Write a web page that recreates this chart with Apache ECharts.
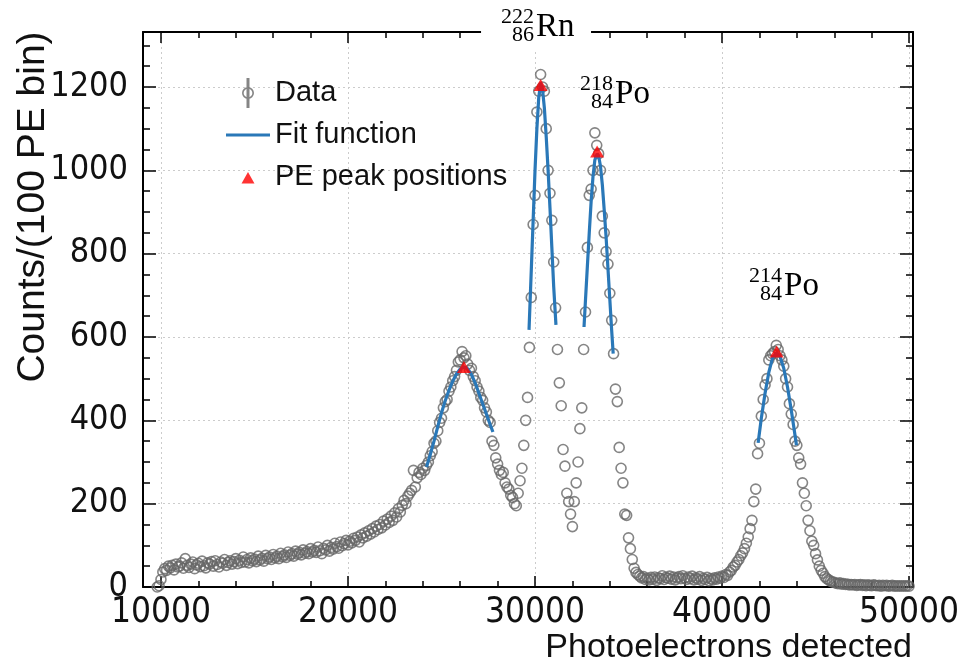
<!DOCTYPE html>
<html><head><meta charset="utf-8">
<script src="https://cdn.jsdelivr.net/npm/echarts@6/dist/echarts.min.js"></script>
<style>html,body{margin:0;padding:0;background:#fff}#c{width:961px;height:670px}</style>
</head><body><div id="c"></div>
<script>
// ---- data: counts per 100 PE bin, starting at 9800 PE ----
const binStart = 9800, binWidth = 100;
const counts = [
  0, 3,
  18, 36, 44, 40, 50, 46, 52, 41, 55, 48,
  50, 58, 45, 68, 52, 47, 55, 60, 44, 53,
  57, 49, 62, 51, 46, 58, 55, 61, 50, 63,
  54, 48, 60, 57, 66, 52, 59, 63, 55, 61,
  68, 56, 64, 59, 72, 60, 66, 58, 70, 63,
  67, 61, 74, 65, 69, 62, 76, 68, 72, 66,
  78, 70, 74, 68, 81, 73, 77, 71, 84, 76,
  80, 74, 86, 79, 83, 77, 89, 81, 85, 80,
  92, 84, 88, 83, 96, 87, 80, 93, 89, 100,
  86, 95, 91, 105, 97, 93, 108, 99, 104, 112,
  101, 110, 106, 117, 112, 120, 108, 125, 118, 130,
  122, 135, 127, 140, 132, 146, 138, 150, 142, 158,
  149, 163, 155, 170, 160, 178, 168, 188, 180, 196,
  208, 200, 218, 225, 232, 280, 240, 262, 275, 270,
  285, 280, 292, 300, 315, 325, 345, 350, 375, 395,
  405, 430, 445, 450, 470, 480, 495, 505, 520, 540,
  545, 565, 550, 555, 535, 520, 525, 505, 495, 480,
  470, 455, 448, 430, 420, 400, 395, 350, 340, 310,
  295, 280, 270, 275, 250, 240, 235, 220, 215, 200,
  195, 225, 255, 285, 340, 400, 455, 575, 695, 870,
  940, 1140, 1190, 1230, 1200, 1190, 1100, 1000, 945, 880,
  780, 670, 570, 490, 435, 330, 290, 225, 205, 175,
  145, 205, 250, 300, 380, 430, 570, 660, 815, 940,
  955, 1000, 1090, 1060, 1040, 1000, 890, 850, 805, 775,
  705, 640, 560, 475, 445, 335, 285, 250, 175, 172,
  118, 92, 66, 45, 35, 30, 26, 22, 25, 18,
  21, 17, 23, 19, 24, 16, 22, 20, 27, 18,
  23, 21, 26, 19, 24, 17, 22, 25, 20, 27,
  21, 18, 24, 20, 26, 17, 22, 19, 25, 16,
  21, 18, 23, 15, 20, 17, 22, 19, 24, 21,
  26, 23, 30, 28, 36, 40, 48, 52, 60, 66,
  75, 82, 92, 105, 120, 140, 160, 205, 235, 320,
  345, 410, 450, 485, 500, 545, 555, 560, 565, 580,
  570, 555, 545, 530, 500, 480, 440, 415, 390, 350,
  340, 310, 295, 250, 225, 195, 160, 135, 110, 100,
  80, 65, 50, 40, 33, 25, 20, 17, 14, 12,
  11, 9, 8, 10, 7, 8, 6, 7, 5, 6,
  5, 6, 4, 5, 6, 4, 5, 3, 5, 4,
  3, 5, 4, 3, 4, 2, 4, 3, 4, 2,
  3, 4, 2, 3, 2, 3, 2, 3, 2, 3,
  2
];

// ---- fit function segments ----
const fitComptonX = [24200, 24400, 24600, 24800, 25000, 25200, 25400, 25600, 25800, 26000, 26200, 26400, 26600, 26800, 27000, 27200, 27400, 27600, 27750];
const fitComptonY = [288, 318, 350, 385, 418, 447, 472, 494, 511, 523, 528, 524, 510, 490, 465, 440, 415, 390, 372];
const fitRnX = [29680, 29800, 29900, 30000, 30100, 30200, 30300, 30400, 30500, 30600, 30700, 30800, 30900, 31000, 31120];
const fitRnY = [617, 760, 880, 1000, 1100, 1175, 1210, 1195, 1150, 1080, 1000, 910, 815, 720, 629];
const fitPo218X = [32620, 32700, 32800, 32900, 33000, 33100, 33200, 33320, 33400, 33500, 33600, 33700, 33800, 33900, 34000, 34100, 34180];
const fitPo218Y = [624, 690, 770, 850, 925, 985, 1025, 1040, 1035, 1010, 965, 905, 840, 765, 690, 615, 560];
const fitPo214X = [41930, 42100, 42300, 42500, 42700, 42920, 43100, 43300, 43500, 43700, 43850, 43980];
const fitPo214Y = [346, 405, 465, 515, 550, 562, 553, 525, 480, 425, 380, 340];

// ---- PE peak positions ----
const peakX = [26200, 30300, 33320, 42920];
const peakY = [528, 1205, 1045, 565];

// ---- ticks ----
const xMajor = [10000, 20000, 30000, 40000, 50000];
const xMinor = [10000, 12000, 14000, 16000, 18000, 20000, 22000, 24000, 26000, 28000, 30000, 32000, 34000, 36000, 38000, 40000, 42000, 44000, 46000, 48000, 50000];
const yMajor = [0, 200, 400, 600, 800, 1000, 1200];
const yMinor = [0, 50, 100, 150, 200, 250, 300, 350, 400, 450, 500, 550, 600, 650, 700, 750, 800, 850, 900, 950, 1000, 1050, 1100, 1150, 1200, 1250, 1300];

// ---- isotope annotations ----
const isoX = [30055, 34280, 43318];
const isoY = [1344, 1183, 722];
const isoMass = ['222', '218', '214'];
const isoZ = ['86', '84', '84'];
const isoSym = ['Rn', 'Po', 'Po'];
const isoBg = [true, false, false];

const X_MIN = 9040, X_MAX = 50210, Y_MIN = 0, Y_MAX = 1332;
const SANS = "'Liberation Sans', Arial, sans-serif";
const NARROW = "'Liberation Sans Narrow', 'Arial Narrow', 'DejaVu Sans Condensed', sans-serif";
const SERIF = "'Liberation Serif', 'Times New Roman', serif";

const dataPts = counts.map((c, i) => [binStart + i * binWidth, c]);
const pairs = (xs, ys) => xs.map((x, i) => [x, ys[i]]);
const plain = v => String(v);

function xAx(pos, ticks, len, main) {
  return {
    type: 'value', position: pos, min: X_MIN, max: X_MAX,
    axisLine: { show: main, onZero: false, lineStyle: { color: '#000', width: 2 } },
    axisTick: { show: true, inside: true, length: len, customValues: ticks, lineStyle: { color: '#000', width: 1.5 } },
    axisLabel: (main && pos === 'bottom') ? { show: true, customValues: xMajor, formatter: plain, margin: 8, fontSize: 35, fontFamily: NARROW, color: '#111' } : { show: false },
    splitLine: (main && pos === 'bottom') ? { show: true, lineStyle: { color: '#cccccc', type: [2, 3], width: 1 } } : { show: false }
  };
}
function yAx(pos, ticks, len, main) {
  return {
    type: 'value', position: pos, min: Y_MIN, max: Y_MAX,
    axisLine: { show: main, onZero: false, lineStyle: { color: '#000', width: 2 } },
    axisTick: { show: true, inside: true, length: len, customValues: ticks, lineStyle: { color: '#000', width: 1.5 } },
    axisLabel: (main && pos === 'left') ? { show: true, customValues: yMajor, formatter: plain, margin: 15, fontSize: 34, fontFamily: NARROW, color: '#111' } : { show: false },
    splitLine: (main && pos === 'left') ? { show: true, lineStyle: { color: '#cccccc', type: [2, 3], width: 1 } } : { show: false }
  };
}

const dataIcon = 'path://M8,0H12V40H8Z M2,20A8,8 0 1,1 18,20A8,8 0 1,1 2,20Z M4.2,20A5.8,5.8 0 1,0 15.8,20A5.8,5.8 0 1,0 4.2,20Z';
const triIcon = 'path://M0,0M30,30M8.5,21.5L15,10L21.5,21.5Z';
const lineIcon = 'path://M0,0M44,30M0,13.5H44V16.5H0Z';
const FIT_COLOR = '#2a78b8';

function fitSeries(xs, ys) {
  return {
    name: 'Fit function', type: 'line', data: pairs(xs, ys), symbol: 'none', showSymbol: false,
    lineStyle: { color: FIT_COLOR, width: 3.2 }, itemStyle: { color: FIT_COLOR }, z: 4, silent: true
  };
}

const chart = echarts.init(document.getElementById('c'), null, { renderer: 'canvas' });
chart.setOption({
  animation: false,
  backgroundColor: '#fff',
  grid: { left: 143, right: 48, top: 32, bottom: 83, containLabel: false, outerBoundsMode: 'none' },
  xAxis: [xAx('bottom', xMajor, 11, true), xAx('bottom', xMinor, 6, false), xAx('top', xMajor, 11, true), xAx('top', xMinor, 6, false)],
  yAxis: [yAx('left', yMajor, 13, true), yAx('left', yMinor, 7, false), yAx('right', yMajor, 13, true), yAx('right', yMinor, 7, false)],
  legend: {
    orient: 'vertical', left: 221, top: 73, itemWidth: 44, itemHeight: 30, itemGap: 12,
    textStyle: { fontSize: 29, fontFamily: SANS, color: '#111' },
    selectedMode: false,
    data: [
      { name: 'Data', icon: dataIcon, itemStyle: { color: '#666666', borderWidth: 0 } },
      { name: 'Fit function', icon: lineIcon, itemStyle: { color: FIT_COLOR, borderWidth: 0 } },
      { name: 'PE peak positions', icon: triIcon, itemStyle: { color: '#ff0000' } }
    ]
  },
  graphic: [{
    type: 'text', x: 33, y: 207, rotation: Math.PI / 2,
    style: { text: 'Counts/(100 PE bin)', fontSize: 39, fontFamily: SANS, fill: '#111', align: 'center', verticalAlign: 'middle' }
  }, {
    type: 'text', x: 912, y: 648,
    style: { text: 'Photoelectrons detected', fontSize: 34, fontFamily: SANS, fill: '#111', align: 'right', verticalAlign: 'middle' }
  }],
  series: [
    {
      name: 'Data', type: 'scatter', data: dataPts, symbol: 'circle', symbolSize: 10, clip: false,
      itemStyle: { color: 'rgba(0,0,0,0)', borderColor: '#666666', borderWidth: 1.6 }, z: 3, silent: true
    },
    fitSeries(fitComptonX, fitComptonY),
    fitSeries(fitRnX, fitRnY),
    fitSeries(fitPo218X, fitPo218Y),
    fitSeries(fitPo214X, fitPo214Y),
    {
      name: 'PE peak positions', type: 'scatter', data: pairs(peakX, peakY), symbol: 'triangle', symbolSize: [14, 12],
      itemStyle: { color: '#ff0000' }, z: 5, silent: true
    },
    {
      name: 'isotopes', type: 'custom', clip: false, silent: true, z: 6,
      data: pairs(isoX, isoY),
      renderItem: function (params, api) {
        const i = params.dataIndex;
        const p = api.coord([api.value(0), api.value(1)]);
        const kids = [];
        if (isoBg[i]) {
          kids.push({ type: 'rect', shape: { x: p[0] - 55, y: p[1] - 30, width: 110, height: 52 }, style: { fill: '#fff' } });
        }
        kids.push({ type: 'text', style: { x: p[0] - 2, y: p[1] - 10, text: isoMass[i], fontSize: 22, fontFamily: SERIF, fill: '#000', align: 'right', verticalAlign: 'middle' } });
        kids.push({ type: 'text', style: { x: p[0] - 2, y: p[1] + 8, text: isoZ[i], fontSize: 22, fontFamily: SERIF, fill: '#000', align: 'right', verticalAlign: 'middle' } });
        kids.push({ type: 'text', style: { x: p[0], y: p[1], text: isoSym[i], fontSize: 33, fontFamily: SERIF, fill: '#000', align: 'left', verticalAlign: 'middle' } });
        return { type: 'group', children: kids };
      }
    }
  ]
});
</script>
</body></html>
